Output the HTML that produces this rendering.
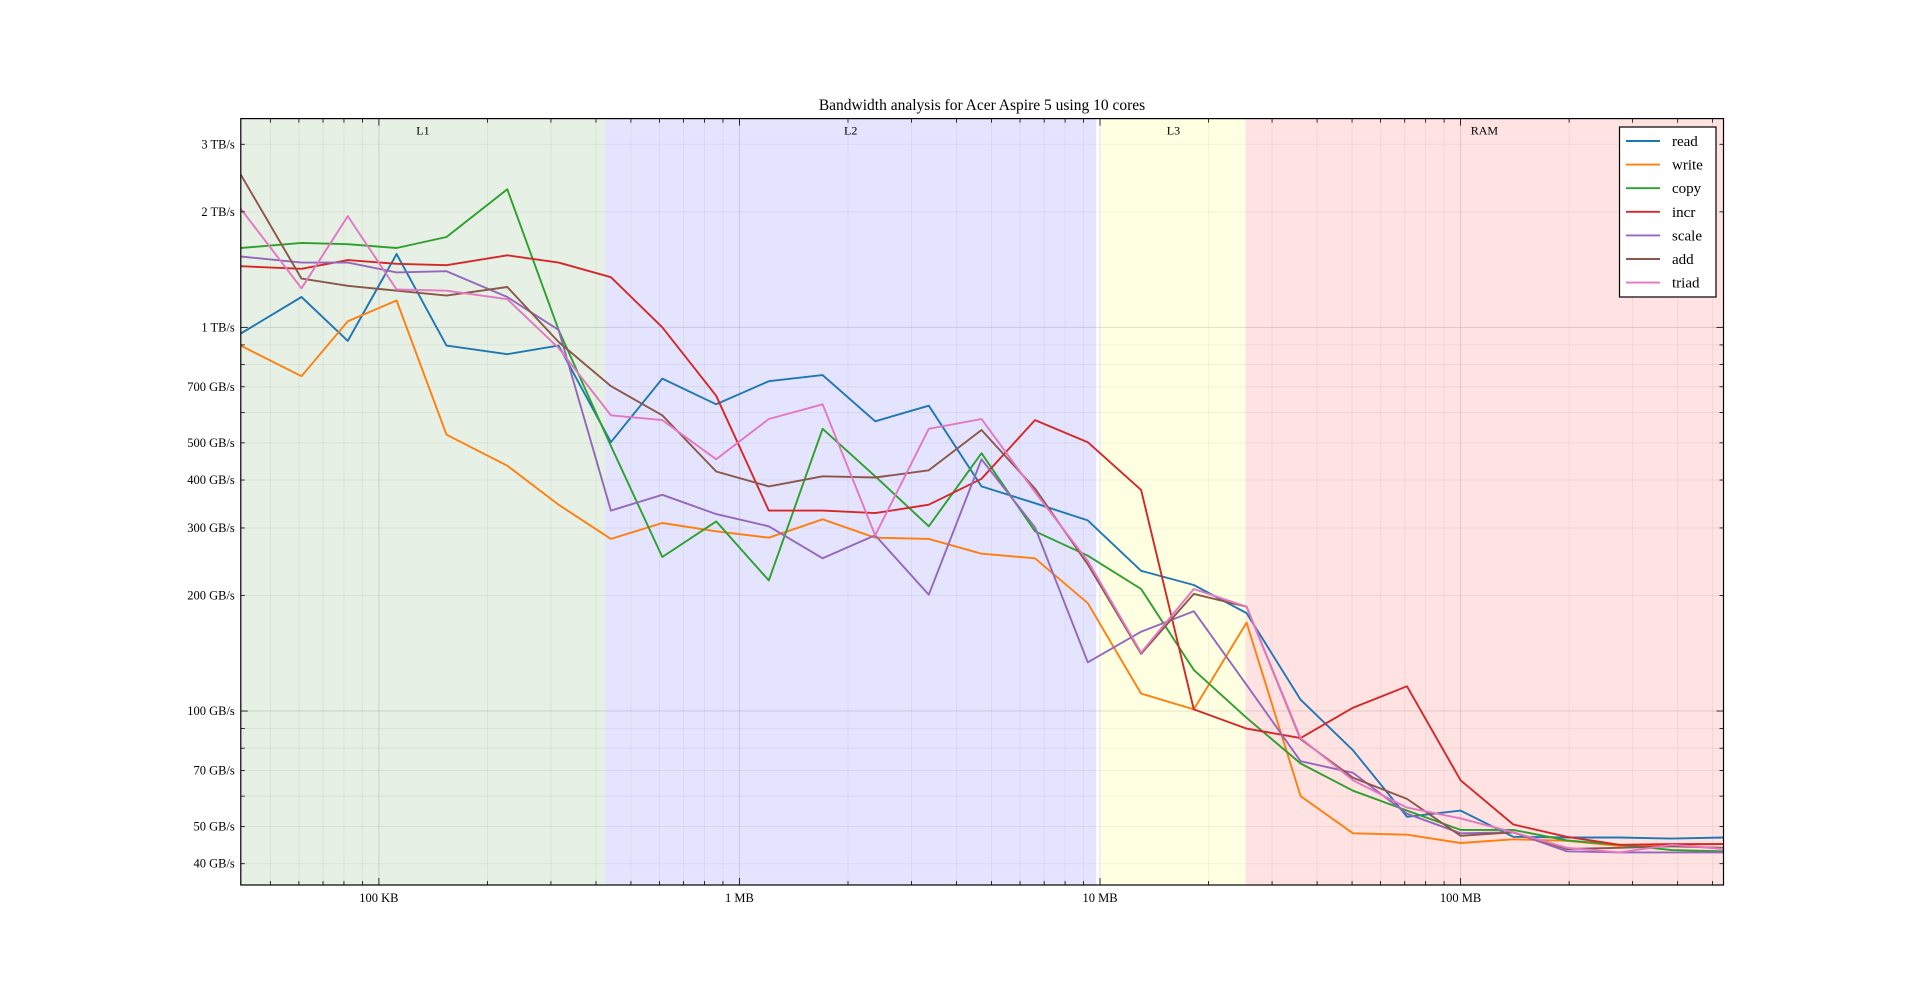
<!DOCTYPE html>
<html><head><meta charset="utf-8"><style>
html,body{margin:0;padding:0;background:#fff;}
svg{display:block;font-family:"Liberation Serif",serif;}
</style></head><body>
<svg id="chart" width="1916" height="994" viewBox="0 0 1916 994" xmlns="http://www.w3.org/2000/svg">
<g id="regions"></g>
<g id="grid"></g>
<g id="series"></g>
<g id="axes"></g>
<text x="982" y="110" font-size="15.5" text-anchor="middle">Bandwidth analysis for Acer Aspire 5 using 10 cores</text>
<g id="legend"></g>
</svg>
<script>
const sizesKB=[41.4,61,82,112,154,227,315,440,611,862,1206,1700,2380,3350,4690,6600,9250,13000,18200,25500,36000,50300,71000,100000,140000,197000,276000,386000,536000];
const seriesNames=["read","write","copy","incr","scale","add","triad"];
const readGB=[964,1200,922,1553,896,851,896,502,735,630,724,751,569,625,385,348,314,232,213,180,107,79,53,55,47,46.8,46.8,46.5,46.8];
const writeGB=[896,746,1037,1175,525,436,345,281,309,294,283,316,283,281,257,250,191,111,101,170,60,48,47.6,45.3,46.3,45.9,44.5,44.8,45];
const copyGB=[1610,1660,1647,1610,1720,2290,985,491,252,312,219,544,409,303,470,294,254,208,128,96,73,62,55,49,49,46,44.8,43.4,43.1];
const incrGB=[1443,1421,1497,1464,1452,1541,1475,1351,1000,663,333,333,328,345,403,573,502,377,101,90,85,102,116,66,50.6,47,44.8,45,45];
const scaleGB=[1530,1475,1475,1391,1401,1200,985,333,366,326,303,250,287,201,453,301,134,161,182,117,74,69,54,48,48.3,43.1,42.8,42.8,42.8];
const addGB=[2500,1340,1283,1246,1210,1274,916,703,590,421,385,409,406,424,540,380,241,141,202,187,84.5,67,59,47.3,48.3,43.7,44,44.4,44];
const triadGB=[2037,1264,1950,1255,1246,1184,883,590,573,453,577,630,287,544,577,372,246,142,208,187,85,66,56,52.5,48.3,44,42.8,44.8,43.7];
const regionNames=["L1","L2","L3","RAM"];
const regionStartKB=[41.4,424,10100,25300];
const regionEndKB=[424,9760,25300,536000];
const yTickValsGB=[3000,2000,1000,700,500,400,300,200,100,70,50,40];
const yTickLabels=["3 TB/s","2 TB/s","1 TB/s","700 GB/s","500 GB/s","400 GB/s","300 GB/s","200 GB/s","100 GB/s","70 GB/s","50 GB/s","40 GB/s"];
const xTickValsKB=[100,1000,10000,100000];
const xTickLabels=["100 KB","1 MB","10 MB","100 MB"];

const colors=["#1f77b4","#ff7f0e","#2ca02c","#d62728","#9467bd","#8c564b","#e377c2"];
const regionColors=["#e6f0e4","#e4e4fe","#ffffe2","#ffe3e3"];
const L=240.8,R=1723.5,T=118.6,B=885;
const X0=41.4,X1=536000,Y0=35.2,Y1=3500;
const ns="http://www.w3.org/2000/svg";
function xs(v){return L+(Math.log10(v)-Math.log10(X0))/(Math.log10(X1)-Math.log10(X0))*(R-L);}
function ys(v){return B-(Math.log10(v)-Math.log10(Y0))/(Math.log10(Y1)-Math.log10(Y0))*(B-T);}
function mk(tag,attrs,parent){const e=document.createElementNS(ns,tag);for(const k in attrs)e.setAttribute(k,attrs[k]);parent.appendChild(e);return e;}
const gR=document.getElementById('regions'),gG=document.getElementById('grid'),gS=document.getElementById('series'),gA=document.getElementById('axes'),gL=document.getElementById('legend');
regionNames.forEach((n,i)=>{
  const x1=xs(regionStartKB[i]),x2=xs(regionEndKB[i]);
  const r=mk('rect',{x:x1,y:T,width:x2-x1,height:B-T,fill:regionColors[i]},gR);
  
  
  const t=mk('text',{x:(x1+x2)/2,y:T+16,'font-size':12,'text-anchor':'middle'},gR);
  t.textContent=n;
  
  
});
for(let d=10;d<=1000000;d*=10){for(let m=1;m<10;m++){const v=d*m;if(v<X0||v>X1)continue;const x=xs(v);
  mk('line',{x1:x,x2:x,y1:T,y2:B,stroke:'#000','stroke-opacity':m===1?0.12:0.05,'stroke-width':1},gG);
  const tl=m===1?7:4;
  mk('line',{x1:x,x2:x,y1:B,y2:B-tl,stroke:'#000','stroke-width':0.8},gA);
  mk('line',{x1:x,x2:x,y1:T,y2:T+tl,stroke:'#000','stroke-width':0.8},gA);
}}
for(let d=10;d<=1000;d*=10){for(let m=1;m<10;m++){const v=d*m;if(v<Y0||v>Y1)continue;const y=ys(v);
  mk('line',{x1:L,x2:R,y1:y,y2:y,stroke:'#000','stroke-opacity':m===1?0.12:0.05,'stroke-width':1},gG);
  const tl=m===1?7:4;
  mk('line',{x1:L,x2:L+tl,y1:y,y2:y,stroke:'#000','stroke-width':0.8},gA);
  mk('line',{x1:R,x2:R-tl,y1:y,y2:y,stroke:'#000','stroke-width':0.8},gA);
}}
yTickValsGB.forEach((v,i)=>{const t=mk('text',{x:L-6,y:ys(v)+4,'font-size':12.5,'text-anchor':'end'},gA);t.textContent=yTickLabels[i];
  
  });
xTickValsKB.forEach((v,i)=>{const t=mk('text',{x:xs(v),y:B+17,'font-size':12.5,'text-anchor':'middle'},gA);t.textContent=xTickLabels[i];
  
  });
const frame=mk('rect',{x:L,y:T,width:R-L,height:B-T,fill:'none',stroke:'#000','stroke-width':1.2},gA);


const allSeries=[readGB,writeGB,copyGB,incrGB,scaleGB,addGB,triadGB];
allSeries.forEach((arr,i)=>{
  const d=arr.map((v,j)=>(j?'L':'M')+xs(sizesKB[j]).toFixed(1)+' '+ys(v).toFixed(1)).join(' ');
  const p=mk('path',{d:d,fill:'none',stroke:colors[i],'stroke-width':1.9,'stroke-linejoin':'round'},gS);
  
  
});
const lb=mk('rect',{x:1619.5,y:127,width:96.5,height:170,fill:'#fff',stroke:'#000','stroke-width':1.2},gL);


seriesNames.forEach((n,i)=>{const y=141+i*23.6;
  const ln=mk('line',{x1:1626,x2:1660,y1:y,y2:y,stroke:colors[i],'stroke-width':1.9},gL);
  
  
  const t=mk('text',{x:1672,y:y+5,'font-size':15},gL);t.textContent=n;
  
  
});
</script>
</body></html>
